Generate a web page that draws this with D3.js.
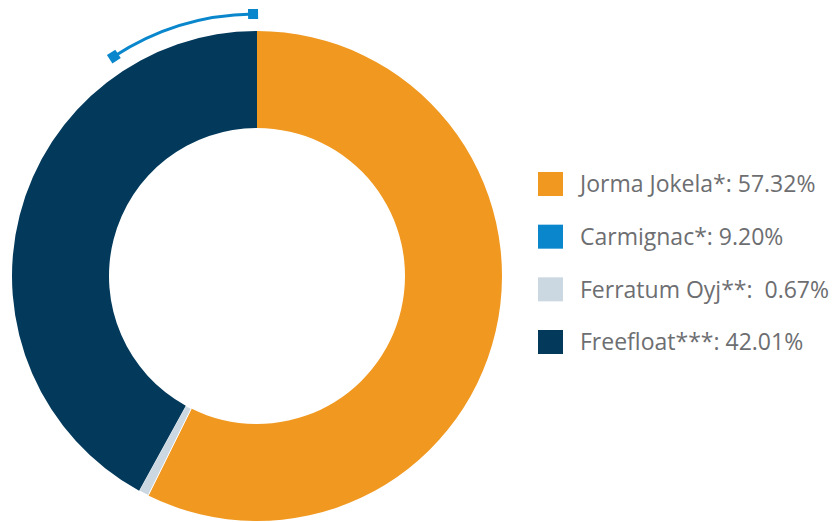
<!DOCTYPE html>
<html>
<head>
<meta charset="utf-8">
<script src="https://cdn.jsdelivr.net/npm/d3@7"></script>
<style>
  body { margin: 0; background: #fff; }
</style>
</head>
<body>
<div id="chart"></div>
<script>
// ring slices (Carmignac is drawn as the outer bracket)
const sliceNames = ["Jorma Jokela", "Ferratum Oyj", "Freefloat"];
const sliceValues = [57.32, 0.67, 42.01];
const sliceColors = ["#f0981f", "#cbd8e1", "#033a5c"];

// outer arc for Carmignac, measured back from the top
const bracketValue = 9.20;

// legend
const legendLabels = ["Jorma Jokela*: 57.32%", "Carmignac*: 9.20%", "Ferratum Oyj**:  0.67%", "Freefloat***: 42.01%"];
const legendColors = ["#f0981f", "#0a87cc", "#cbd8e1", "#033a5c"];

const width = 835, height = 522;
const cx = 257, cy = 276;
const outerR = 245, innerR = 148, bracketR = 262;

const svg = d3.select("#chart")
    .append("svg")
    .attr("width", width)
    .attr("height", height);

const g = svg.append("g")
    .attr("transform", `translate(${cx},${cy})`);

// the donut
const pie = d3.pie().sort(null).value(d => d.v);
const arc = d3.arc().innerRadius(innerR).outerRadius(outerR);
const data = sliceNames.map((n, i) => ({ name: n, v: sliceValues[i], color: sliceColors[i] }));

g.selectAll("path.slice")
    .data(pie(data))
    .join("path")
    .attr("class", "slice")
    .attr("d", arc)
    .attr("fill", d => d.data.color)
    .attr("stroke", "#fff")
    .attr("stroke-width", d => d.data.name == "Ferratum Oyj" ? 1 : 0);

// Carmignac bracket
const angle = d3.scaleLinear().domain([0, 100]).range([0, 2 * Math.PI]);
const a0 = -angle(bracketValue), a1 = -0.015;
const bracketArc = d3.arc()
    .innerRadius(bracketR - 1.5)
    .outerRadius(bracketR + 1.5)
    .startAngle(a0)
    .endAngle(a1);
g.append("path")
    .attr("d", bracketArc())
    .attr("fill", "#0a87cc");

// end caps
[a0, a1].forEach(function (a) {
    const x = bracketR * Math.sin(a), y = -bracketR * Math.cos(a);
    g.append("rect")
        .attr("x", -5).attr("y", -5)
        .attr("width", 10).attr("height", 10)
        .attr("fill", "#0a87cc")
        .attr("transform", `translate(${x},${y}) rotate(${a * 180 / Math.PI})`);
});

// legend
const legend = svg.append("g").attr("transform", "translate(538,172)");
const rowY = d3.scalePoint().domain(d3.range(legendLabels.length)).range([0, 158]);

const rows = legend.selectAll("g.row")
    .data(legendLabels)
    .join("g")
    .attr("class", "row")
    .attr("transform", (d, i) => `translate(0,${rowY(i)})`);

rows.append("rect")
    .attr("width", 25)
    .attr("height", 24)
    .attr("fill", (d, i) => legendColors[i]);

rows.append("text")
    .attr("x", 42)
    .attr("y", 12)
    .attr("dy", "0.36em")
    .attr("fill", "#6d6e71")
    .style("font-family", "'Open Sans', sans-serif")
    .style("font-size", "23px")
    .style("white-space", "pre")
    .text(d => d);
</script>
</body>
</html>
